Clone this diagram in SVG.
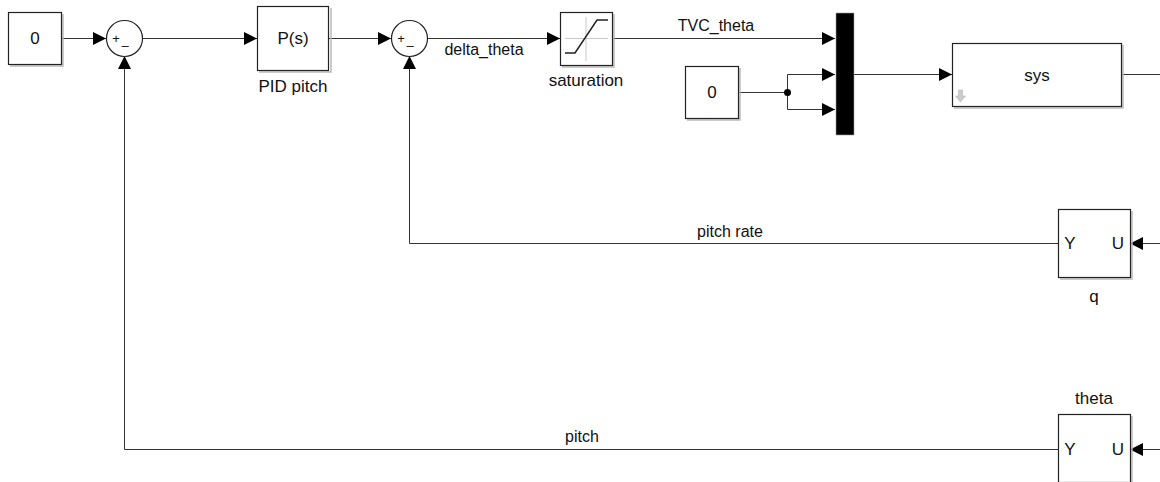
<svg xmlns="http://www.w3.org/2000/svg" width="1160" height="482" viewBox="0 0 1160 482">
  <defs>
    <marker id="arr" markerUnits="userSpaceOnUse" markerWidth="14" markerHeight="14" refX="13" refY="6.5" orient="auto">
      <path d="M0,0 L13,6.5 L0,13 Z" fill="#000"/>
    </marker>
    <style>
      .blk { fill: #fff; stroke: #222; stroke-width: 1.2; }
      .shd { fill: none; stroke: #bbb; stroke-width: 1.5; }
      .wire { fill: none; stroke: #333; stroke-width: 1; }
      .big { font-family: "Liberation Sans", Arial, sans-serif; font-size: 16px; fill: #111; text-anchor: middle; }
      .name { font-family: "Liberation Sans", Arial, sans-serif; font-size: 17px; fill: #111; text-anchor: middle; }
      .sgn { font-family: "Liberation Sans", Arial, sans-serif; font-size: 13px; fill: #111; text-anchor: middle; }
    </style>
  </defs>

  <rect width="1160" height="482" fill="#fff"/>

  <!-- signal lines -->
  <g id="connectors">
    <path class="wire" d="M61,38.5 H106" marker-end="url(#arr)"/>
    <path class="wire" d="M142,38.5 H257" marker-end="url(#arr)"/>
    <path class="wire" d="M329,38.5 H391" marker-end="url(#arr)"/>
    <path class="wire" d="M427,38.5 H560" marker-end="url(#arr)"/>
    <path class="wire" d="M612,38.5 H835" marker-end="url(#arr)"/>
    <path class="wire" d="M738,92.5 H787.5"/>
    <path class="wire" d="M787.5,74.5 V109.5"/>
    <path class="wire" d="M787.5,74.5 H835" marker-end="url(#arr)"/>
    <path class="wire" d="M787.5,109.5 H835" marker-end="url(#arr)"/>
    <circle cx="787.5" cy="92.5" r="3.5" fill="#000"/>
    <path class="wire" d="M853,74.5 H952" marker-end="url(#arr)"/>
    <path class="wire" d="M1121,74.5 H1160"/>
    <path class="wire" d="M1160,243.5 H1130" marker-end="url(#arr)"/>
    <path class="wire" d="M1058,243.5 H409.5 V56" marker-end="url(#arr)"/>
    <path class="wire" d="M1160,449.5 H1130" marker-end="url(#arr)"/>
    <path class="wire" d="M1058,449.5 H124.5 V56" marker-end="url(#arr)"/>
    <text class="big" x="484" y="55">delta_theta</text>
    <text class="big" x="716" y="31">TVC_theta</text>
    <text class="big" x="730" y="237">pitch rate</text>
    <text class="big" x="582" y="442">pitch</text>
  </g>

  <g id="const_ref">
    <path class="shd" d="M63,14 V66 H10"/>
    <rect class="blk" x="8.5" y="12.5" width="53" height="52"/>
    <text class="name" x="35" y="44">0</text>
  </g>

  <g id="sum_pitch">
    <circle cx="124.5" cy="38.5" r="18" fill="#fff" stroke="#222" stroke-width="1.2"/>
    <text class="sgn" x="116" y="43">+</text>
    <text class="sgn" x="125" y="50">–</text>
  </g>

  <g id="pid_pitch">
    <path class="shd" d="M331,8 V72 H259"/>
    <rect class="blk" x="257.5" y="6.5" width="71" height="64"/>
    <text class="name" x="293" y="44">P(s)</text>
    <text class="name" x="293" y="92">PID pitch</text>
  </g>

  <g id="sum_rate">
    <circle cx="409.5" cy="38.5" r="18" fill="#fff" stroke="#222" stroke-width="1.2"/>
    <text class="sgn" x="401" y="43">+</text>
    <text class="sgn" x="410" y="50">–</text>
  </g>

  <g id="saturation">
    <path class="shd" d="M614,14 V67 H562"/>
    <rect class="blk" x="560.5" y="12.5" width="52" height="53"/>
    <path d="M565,38.5 H608 M586,17 V61" stroke="#c8c8c8" stroke-width="1" fill="none"/>
    <path d="M565,53 H575 L597,20 H608" stroke="#222" stroke-width="1.5" fill="none"/>
    <text class="name" x="586" y="86">saturation</text>
  </g>

  <g id="const_zero">
    <path class="shd" d="M740,68 V120 H687"/>
    <rect class="blk" x="685.5" y="66.5" width="53" height="52"/>
    <text class="name" x="712" y="98">0</text>
  </g>

  <g id="mux">
    <rect x="836" y="13" width="18" height="122" fill="#000" stroke="#999" stroke-width="0.6"/>
  </g>

  <g id="sys">
    <path class="shd" d="M1123,45 V108 H954"/>
    <rect class="blk" x="952.5" y="43.5" width="169" height="63"/>
    <text class="name" x="1037" y="81">sys</text>
    <path d="M958.5,90 H962.5 V96 H965.5 L960.5,102 L955.5,96 H958.5 Z" fill="#ccc" stroke="#b5b5b5" stroke-width="0.6"/>
  </g>

  <g id="q">
    <path class="shd" d="M1132,211 V279 H1060"/>
    <rect class="blk" x="1058.5" y="209.5" width="72" height="68"/>
    <text class="name" x="1070" y="249">Y</text>
    <text class="name" x="1118" y="249">U</text>
    <text class="name" x="1094" y="302">q</text>
  </g>

  <g id="theta">
    <path class="shd" d="M1132,416 V483"/>
    <rect class="blk" x="1058.5" y="414.5" width="72" height="68"/>
    <text class="name" x="1070" y="455">Y</text>
    <text class="name" x="1118" y="455">U</text>
    <text class="name" x="1094" y="404">theta</text>
  </g>
</svg>
